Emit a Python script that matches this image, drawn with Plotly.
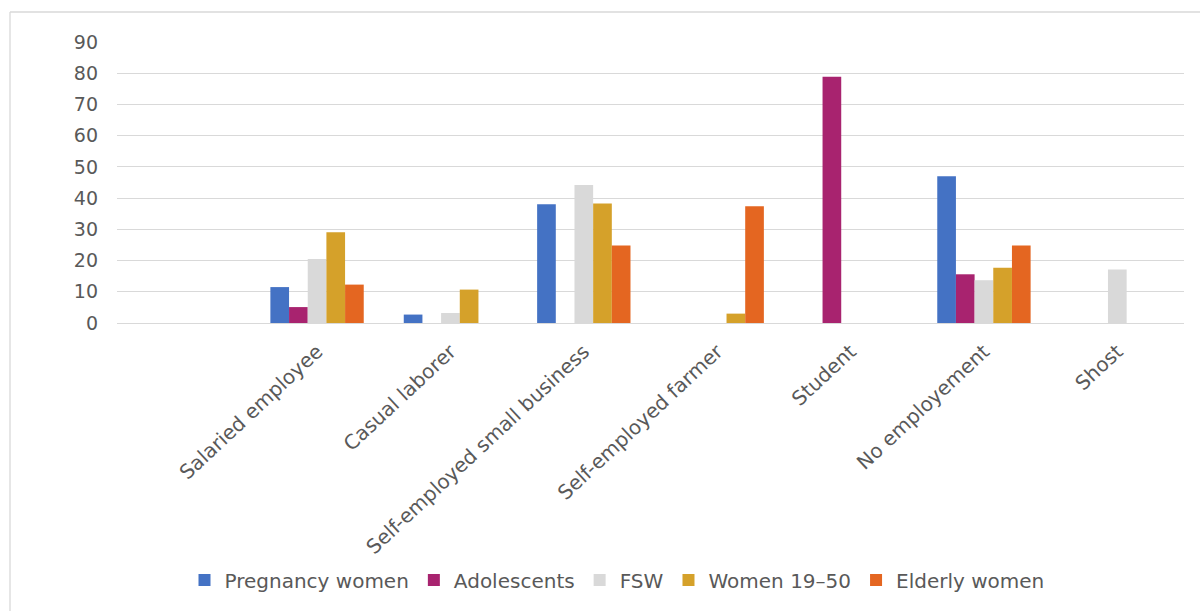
import plotly.graph_objects as go

categories = ["Salaried employee", "Casual laborer", "Self-employed small business",
              "Self-employed farmer", "Student", "No employement", "Shost"]
series_names = ["Pregnancy women", "Adolescents", "FSW", "Women 19\u201350", "Elderly women"]
pregnancy = [11.5, 2.7, 38.0, None, None, 47.0, None]
adolescents = [5.1, None, None, None, 78.9, 15.6, None]
fsw = [20.5, 3.2, 44.2, None, None, 13.7, 17.1]
women_19_50 = [29.1, 10.7, 38.3, 3.0, None, 17.7, None]
elderly = [12.3, None, 24.8, 37.4, None, 24.8, None]
colors = ["#4472C4", "#A8236F", "#D9D9D9", "#D5A12A", "#E46621"]
y_ticks = [0, 10, 20, 30, 40, 50, 60, 70, 80, 90]

FONT = "DejaVu Sans"
TXT = "#595959"

fig = go.Figure()
for name, vals, col in zip(series_names, [pregnancy, adolescents, fsw, women_19_50, elderly], colors):
    fig.add_trace(go.Bar(x=categories, y=vals, name=name, marker_color=col,
                         marker_line_width=0))

L, R, T, B = 117, 16, 42, 288
W, H = 1200, 611
pw = W - L - R
ph = H - T - B

def px(x):
    return (x - L) / pw

def py(y):
    return (H - B - y) / ph

fig.update_layout(
    width=W, height=H,
    margin=dict(l=L, r=R, t=T, b=B),
    paper_bgcolor="white", plot_bgcolor="white",
    barmode="group", bargap=0.3, bargroupgap=0,
    font=dict(family=FONT, color=TXT, size=18),
    xaxis=dict(type="category", range=[-1.5, 6.5], tickangle=-43,
               showgrid=False, showline=False, ticks="",
               ticklabelshift=0, ticklabelstandoff=12,
               tickfont=dict(family=FONT, size=20, color=TXT)),
    yaxis=dict(range=[0, 90], tickvals=y_ticks, showgrid=True, gridcolor="#D9D9D9",
               gridwidth=1.3, zeroline=True, zerolinecolor="#D9D9D9", zerolinewidth=1.3,
               showline=False, ticks="", ticklabelstandoff=18,
               tickfont=dict(family=FONT, size=19, color=TXT)),
    showlegend=True,
    legend=dict(orientation="h", x=px(617), xanchor="center", y=py(580), yanchor="middle",
                bgcolor="rgba(0,0,0,0)",
                font=dict(family=FONT, size=20, color=TXT), traceorder="normal",
                itemwidth=30),
    shapes=[
        dict(type="line", xref="paper", yref="paper", x0=px(10), x1=px(1260), y0=py(12), y1=py(12),
             line=dict(color="#D9D9D9", width=1.3)),
        dict(type="line", xref="paper", yref="paper", x0=px(10), x1=px(10), y0=py(12), y1=py(660),
             line=dict(color="#D9D9D9", width=1.3)),
    ],
)

fig.write_html("out.html")
